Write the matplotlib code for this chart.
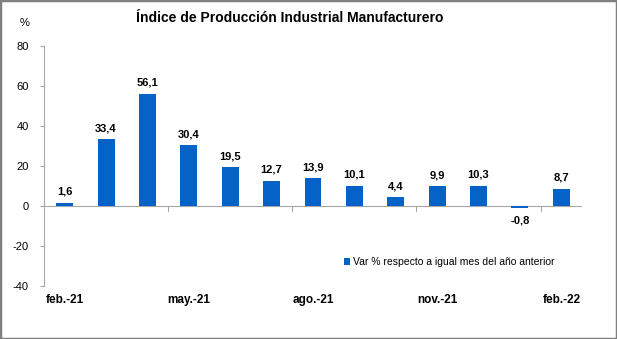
import numpy as np
import matplotlib
matplotlib.use("Agg")
import matplotlib.pyplot as plt
from matplotlib.patches import Rectangle

plt.rcParams['font.family'] = ['Liberation Sans', 'DejaVu Sans']
plt.rcParams['axes.unicode_minus'] = False

# datos
meses = ["feb.-21", "mar.-21", "abr.-21", "may.-21", "jun.-21", "jul.-21", "ago.-21",
         "sep.-21", "oct.-21", "nov.-21", "dic.-21", "ene.-22", "feb.-22"]
var_pct = [1.6, 33.4, 56.1, 30.4, 19.5, 12.7, 13.9, 10.1, 4.4, 9.9, 10.3, -0.8, 8.7]
etiquetas = ["1,6", "33,4", "56,1", "30,4", "19,5", "12,7", "13,9", "10,1", "4,4",
             "9,9", "10,3", "-0,8", "8,7"]
serie = "Var % respecto a igual mes del año anterior"

azul = "#0563C8"
gris = "#A6A6A6"

fig = plt.figure(figsize=(6.17, 3.39), dpi=100)
ax = fig.add_axes([0.0713, 0.156, 0.872, 0.708])

x = np.arange(len(meses))
ax.bar(x, var_pct, width=0.41, color=azul, label=serie, zorder=2)

for i in range(len(x)):
    v = var_pct[i]
    if v >= 0:
        ax.text(x[i], v + 5.5, etiquetas[i], ha='center', va='center',
                fontsize=8, fontweight='bold')
    else:
        ax.text(x[i], v - 6.5, etiquetas[i], ha='center', va='center',
                fontsize=8, fontweight='bold')

ax.set_xlim(-0.5, len(meses) - 0.5)
ax.set_ylim(-40, 80)
ax.set_yticks(np.arange(-40, 81, 20))
ax.tick_params(axis='y', labelsize=8, length=3, color=gris, pad=8)

# eje x en cero, etiquetas abajo
ax.axhline(0, color=gris, lw=0.8, zorder=1)
for b in [2.5, 5.5, 8.5, 11.5]:
    ax.plot([b, b], [0, -2.5], color=gris, lw=0.8, zorder=1)
ax.set_xticks([])
for i in range(0, len(meses), 3):
    ax.text(x[i], -47, meses[i], ha='center', va='center',
            fontsize=8.5, fontweight='bold')

for s in ['top', 'right', 'bottom']:
    ax.spines[s].set_visible(False)
ax.spines['left'].set_color(gris)
ax.spines['left'].set_linewidth(0.8)

ax.legend(loc='center left', bbox_to_anchor=(0.54, 0.1), frameon=False,
          fontsize=7.5, handlelength=0.6, handleheight=0.6, handletextpad=0.3)

fig.text(0.47, 0.948, "Índice de Producción Industrial Manufacturero",
         ha='center', va='center', fontsize=10, fontweight='bold')
fig.text(0.04, 0.932, "%", ha='center', va='center', fontsize=8)

fig.patches.append(Rectangle((0, 0), 1, 1, transform=fig.transFigure, fill=False,
                             edgecolor='#808080', lw=2.5))

fig.savefig("out.png", dpi=100)
